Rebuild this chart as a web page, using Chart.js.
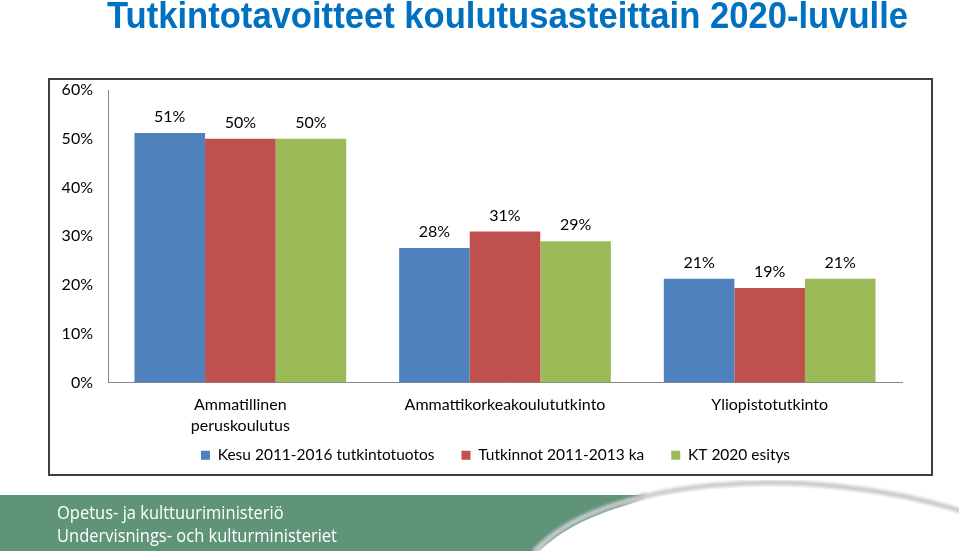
<!DOCTYPE html>
<html>
<head>
<meta charset="utf-8">
<script src="https://cdn.jsdelivr.net/npm/chart.js@4.4.0/dist/chart.umd.min.js"></script>
<style>
  html,body{margin:0;padding:0;background:#fff;}
  body{width:959px;height:551px;position:relative;overflow:hidden;}
  #title{position:absolute;left:107px;top:-5px;display:inline-block;transform-origin:0 0;
    font-family:"Liberation Sans",Arial,sans-serif;
    font-weight:bold;font-size:37px;color:#0070C0;white-space:nowrap;}
  #box{position:absolute;left:48px;top:78px;width:885px;height:398px;}
  #frame{position:absolute;left:48px;top:78px;width:885px;height:398px;box-sizing:border-box;
    border:2px solid #404040;pointer-events:none;}
  #banner{position:absolute;left:0;top:480px;}
  .org{position:absolute;left:57px;display:inline-block;transform-origin:0 0;color:#fff;
    font-family:"Open Sans","Liberation Sans",sans-serif;font-size:19px;white-space:nowrap;}
</style>
</head>
<body>
<div id="title">Tutkintotavoitteet koulutusasteittain 2020-luvulle</div>
<div id="box"><canvas id="c"></canvas></div>
<div id="frame"></div>
<svg id="banner" width="959" height="71" viewBox="0 0 959 71">
  <defs>
    <filter id="blur" x="-10%" y="-50%" width="120%" height="200%"><feGaussianBlur stdDeviation="1.8"/></filter>
  </defs>
  <polygon points="0,15 645,15 533,71 0,71" fill="#5F9479"/>
  <line x1="645" y1="15" x2="533" y2="71" stroke="#9aa59f" stroke-width="4" filter="url(#blur)"/>
  <path d="M 535 71 C 600 0, 800 -20, 965 32" fill="none" stroke="#c9cacd" stroke-width="5" filter="url(#blur)"/>
  <path d="M 540 71 C 605 4, 800 -15, 965 37 L 965 71 Z" fill="#fff"/>
</svg>
<div class="org" id="org1" style="top:499px;">Opetus- ja kulttuuriministeriö</div>
<div class="org" id="org2" style="top:522px;">Undervisnings- och kulturministeriet</div>
<script>
const categories = [["Ammatillinen","peruskoulutus"], "Ammattikorkeakoulututkinto", "Yliopistotutkinto"];
const seriesNames = ["Kesu 2011-2016 tutkintotuotos", "Tutkinnot 2011-2013 ka", "KT 2020 esitys"];
const kesu = [51.2, 27.6, 21.3];
const tutkinnot = [50.0, 31.0, 19.4];
const kt2020 = [50.0, 29.0, 21.3];
const yTicks = [0, 10, 20, 30, 40, 50, 60];
const colors = ["#4F81BD", "#C0504D", "#9BBB59"];

const FONT = "Lato, 'Open Sans', sans-serif";

function fitWidth(id, target) {
  const el = document.getElementById(id);
  const w = el.getBoundingClientRect().width;
  el.style.transform = "scaleX(" + (target / w) + ")";
}
fitWidth("title", 801);
fitWidth("org2", 280);
document.getElementById("org1").style.transform = document.getElementById("org2").style.transform;

const labelPlugin = {
  id: 'valueLabels',
  afterDatasetsDraw(chart) {
    const ctx = chart.ctx;
    ctx.save();
    ctx.font = "16px " + FONT;
    ctx.fillStyle = "#000";
    ctx.textAlign = "center";
    ctx.textBaseline = "middle";
    chart.data.datasets.forEach((ds, i) => {
      const meta = chart.getDatasetMeta(i);
      meta.data.forEach((bar, j) => {
        ctx.fillText(Math.round(ds.data[j]) + "%", bar.x, bar.y - 16);
      });
    });
    ctx.restore();
  }
};

new Chart(document.getElementById('c'), {
  type: 'bar',
  data: {
    labels: categories,
    datasets: [kesu, tutkinnot, kt2020].map((d, i) => ({
      label: seriesNames[i],
      data: d,
      backgroundColor: colors[i],
      borderWidth: 0,
      categoryPercentage: 0.8,
      barPercentage: 1.0
    }))
  },
  options: {
    responsive: true,
    maintainAspectRatio: false,
    animation: false,
    layout: { padding: { left: 10, right: 0, top: 12, bottom: 3 } },
    plugins: {
      legend: {
        position: 'bottom',
        labels: {
          boxWidth: 9, boxHeight: 9, padding: 27,
          color: "#000",
          font: { family: FONT, size: 15.5 }
        }
      },
      tooltip: { enabled: false }
    },
    scales: {
      x: {
        grid: { display: false, drawTicks: false },
        border: { display: true, color: "#868686", width: 1 },
        ticks: { color: "#000", font: { family: FONT, size: 16, lineHeight: 1.3 }, padding: 12, maxRotation: 0, autoSkip: false },
        afterFit(s) {
          s.height = 38;
          s.paddingRight = 31;
          s._computeLabelArea = () => undefined;
        }
      },
      y: {
        min: 0, max: 60,
        grid: { display: false, drawTicks: false },
        border: { display: true, color: "#868686", width: 1 },
        afterBuildTicks(s) { s.ticks = yTicks.map(v => ({ value: v })); },
        ticks: { color: "#000", font: { family: FONT, size: 16 }, padding: 15, callback: v => v + "%" },
        afterFit(s) { s.width = 50; s.paddingTop = 0; s.paddingBottom = 0; }
      }
    }
  },
  plugins: [labelPlugin]
});
</script>
</body>
</html>
